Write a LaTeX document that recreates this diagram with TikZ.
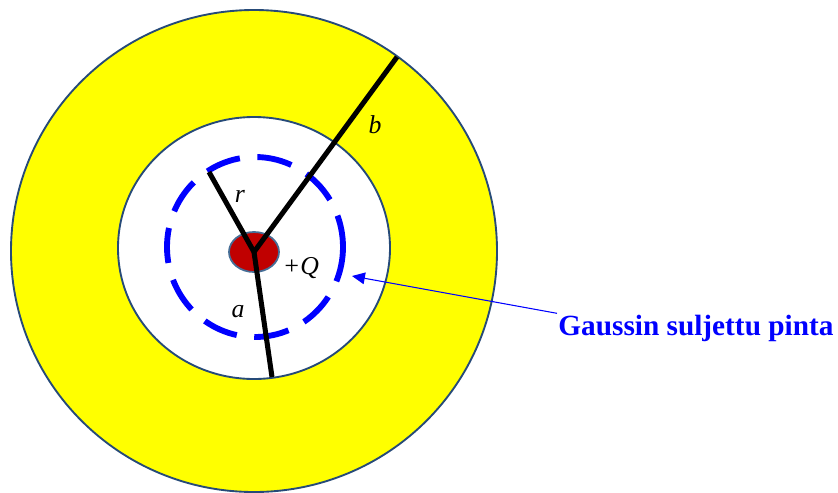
\documentclass[tikz,border=0pt]{standalone}
\usepackage{fontspec}
\setmainfont{Liberation Serif}
\definecolor{ShellYellow}{RGB}{255, 255, 0}
\definecolor{ShellEdge}{RGB}{38, 74, 120}
\definecolor{ChargeRed}{RGB}{192, 0, 0}
\definecolor{ChargeEdge}{RGB}{70, 110, 150}
\definecolor{GaussBlue}{RGB}{0, 0, 255}
\usetikzlibrary{arrows.meta, positioning, shapes.geometric}
\tikzset{
  shell/.style={draw=ShellEdge, line width=1.6pt, fill=#1},
  charge/.style={ellipse, draw=ChargeEdge, line width=1.5pt, fill=ChargeRed,
                 minimum width=1.5cm, minimum height=1.2cm, inner sep=0pt},
  radline/.style={line width=4.3pt, black},
  gauss/.style={draw=GaussBlue, line width=5pt, dash pattern=on 30pt off 15pt},
  lab/.style={font=\fontsize{22}{22}\selectfont\itshape, inner sep=1pt},
  note/.style={font=\fontsize{25}{25}\selectfont\bfseries, text=#1, inner sep=1pt},
  arr/.style={-{Triangle[length=11pt, width=10pt]}, line width=0.9pt, color=#1},
}

\begin{document}
\begin{tikzpicture}[x=0.03cm, y=-0.03cm]
  \useasboundingbox (0,0) rectangle (838,492);
  \clip (0,0) rectangle (838,492);
  % shells
  \draw[shell=ShellYellow] (254,251) ellipse [x radius=243, y radius=241];
  \draw[shell=white] (254,248) ellipse [x radius=136, y radius=131];
  % gaussian surface
  \draw[gauss] (255,247) ellipse [x radius=88, y radius=90];
  % point charge
  \node[charge] (q) at (254,252) {};
  \coordinate (bend) at (397,57);
  \coordinate (rend) at (209,172);
  \coordinate (aend) at (272,377);
  \draw[radline] (q.center) -- (bend);
  \draw[radline] (q.center) -- (rend);
  \draw[radline] (q.center) -- (aend);
  % labels
  \node[lab] (lb) at (375,125) {b};
  \node[lab] (lr) at (240,196) {r};
  \node[lab] (la) at (238,312) {a};
  \node[lab] (lq) at (301,268) {+Q};
  \node[note=GaussBlue, anchor=west] (txt) at (557,328) {Gaussin suljettu pinta};
  \coordinate (tip) at (352,276);
  \draw[arr=GaussBlue] (txt.north west) -- (tip);
\end{tikzpicture}
\end{document}
